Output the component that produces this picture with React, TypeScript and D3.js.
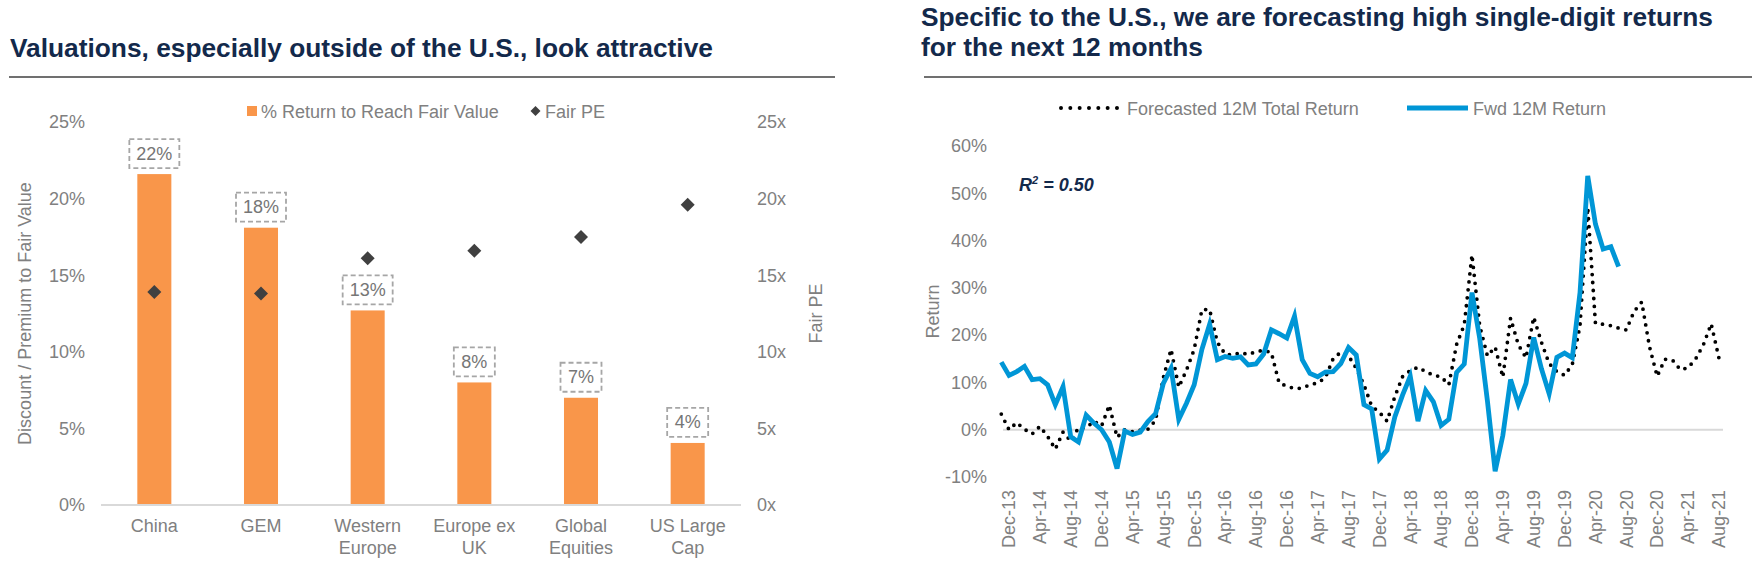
import React from 'react';
import * as d3 from 'd3';

const W = 1752;
const H = 561;
const FONT = '"Liberation Sans", Arial, Helvetica, sans-serif';
const NAVY = '#13294b';
const GRAY = '#808080';
const ORANGE = '#f9964a';
const BLUE = '#0096d6';

// ---- left chart data ----
const regions = ['China', 'GEM', 'Western Europe', 'Europe ex UK', 'Global Equities', 'US Large Cap'];
const regionLines = [['China'], ['GEM'], ['Western', 'Europe'], ['Europe ex', 'UK'], ['Global', 'Equities'], ['US Large', 'Cap']];
const returnToFair = [21.6, 18.1, 12.7, 8.0, 7.0, 4.05];
const returnLabels = ['22%', '18%', '13%', '8%', '7%', '4%'];
const fairPE = [13.9, 13.8, 16.1, 16.6, 17.5, 19.6];
const pctTicks = [0, 5, 10, 15, 20, 25];

// ---- right chart data (monthly, Nov-13 .. Aug-21) ----
const firstMonth = new Date(2013, 10, 1);
const lastMonth = new Date(2021, 7, 1);
const forecast12m = [
  3.3, 0.0, 1.5, 0.1, -0.9, 0.7, -1.4, -4.1, -0.5, -2.4,
  0.4, 0.4, 1.8, 0.8, 5.2, -1.6, 0.0, -0.4, -0.1, 0.1,
  2.0, 11.0, 17.0, 9.0, 12.6, 17.0, 25.4, 25.4, 18.5, 16.0,
  15.8, 16.3, 15.9, 16.5, 16.8, 16.3, 9.9, 9.2, 8.7, 8.8,
  9.5, 9.9, 11.0, 15.0, 16.4, 15.6, 13.0, 9.5, 5.0, 3.7,
  1.8, 7.0, 11.2, 12.5, 13.2, 12.3, 11.5, 11.2, 9.5, 18.0,
  22.2, 37.0, 22.0, 15.6, 17.5, 11.1, 23.6, 18.0, 15.2, 23.8,
  18.5, 14.0, 12.3, 11.5, 13.8, 22.0, 47.0, 22.5, 22.3, 22.0,
  21.5, 21.1, 25.0, 27.0, 17.6, 11.3, 14.9, 14.7, 12.7, 13.1,
  15.0, 18.0, 22.4, 15.2,
];
const fwd12m = [
  14.3, 11.5, 12.3, 13.4, 10.6, 10.8, 9.5, 5.3, 9.1, -1.5,
  -2.6, 3.1, 1.4, 0.0, -2.6, -8.2, -0.3, -1.0, -0.5, 1.7,
  3.4, 9.8, 13.0, 2.2, 5.6, 9.5, 17.0, 22.3, 14.8, 15.5,
  15.1, 15.4, 13.7, 13.9, 16.0, 21.1, 20.3, 19.4, 24.0, 14.8,
  11.9, 11.2, 12.2, 12.3, 14.0, 17.4, 15.8, 5.3, 4.4, -6.2,
  -4.3, 2.7, 7.3, 11.3, 1.8, 8.3, 5.9, 0.9, 2.2, 12.1,
  13.9, 29.0, 19.3, 6.1, -8.8, -1.2, 10.6, 5.4, 9.8, 19.5,
  12.9, 7.6, 15.3, 16.2, 15.2, 29.0, 53.7, 43.5, 38.2, 38.7,
  34.5,
];
const returnTicks = [-10, 0, 10, 20, 30, 40, 50, 60];

const fmtMonth = d3.timeFormat('%b-%y');
const months = d3.timeMonth.range(firstMonth, d3.timeMonth.offset(lastMonth, 1));
const monthKeys = months.map(fmtMonth);
// axis labels every 4 months starting Dec-13
const labelKeys = monthKeys.filter((_, i) => i % 4 === 1);

const diamond = (cx: number, cy: number, r: number) =>
  `M${cx},${cy - r}L${cx + r},${cy}L${cx},${cy + r}L${cx - r},${cy}Z`;

const LeftChart: React.FC = () => {
  const x = d3.scaleBand<string>().domain(regions).range([101, 741]).paddingInner(0.681).paddingOuter(0.3405);
  const y = d3.scaleLinear().domain([0, 25]).range([505, 122]);

  return (
    <g>
      <text x={10} y={57} fontSize={26.3} fontWeight="bold" fill={NAVY}>
        Valuations, especially outside of the U.S., look attractive
      </text>
      <line x1={9} x2={835} y1={77} y2={77} stroke="#404040" strokeWidth={1.5} />

      {/* legend */}
      <rect x={247} y={106} width={10} height={10} fill={ORANGE} />
      <text x={261} y={117.5} fontSize={18} fill={GRAY}>% Return to Reach Fair Value</text>
      <path d={diamond(535.5, 111, 5)} fill="#404040" />
      <text x={545} y={117.5} fontSize={18} fill={GRAY}>Fair PE</text>

      {/* left axis */}
      {pctTicks.map(t => (
        <text key={'l' + t} x={85} y={y(t)} dy="0.35em" textAnchor="end" fontSize={18} fill={GRAY}>{t}%</text>
      ))}
      <text transform={`translate(25,${(y(0) + y(25)) / 2}) rotate(-90)`} dy="0.35em" textAnchor="middle" fontSize={18} fill={GRAY}>
        Discount / Premium to Fair Value
      </text>

      {/* right axis */}
      {pctTicks.map(t => (
        <text key={'r' + t} x={757} y={y(t)} dy="0.35em" fontSize={18} fill={GRAY}>{t}x</text>
      ))}
      <text transform={`translate(816,${(y(0) + y(25)) / 2}) rotate(-90)`} dy="0.35em" textAnchor="middle" fontSize={18} fill={GRAY}>
        Fair PE
      </text>

      {/* bars */}
      {regions.map((r, i) => (
        <rect key={r} x={x(r)} y={y(returnToFair[i])} width={x.bandwidth()} height={y(0) - y(returnToFair[i])} fill={ORANGE} />
      ))}
      <line x1={101} x2={741} y1={y(0)} y2={y(0)} stroke="#d9d9d9" strokeWidth={2} />

      {/* data labels */}
      {regions.map((r, i) => {
        const cx = (x(r) || 0) + x.bandwidth() / 2;
        const bw = returnLabels[i].length === 3 ? 50 : 41;
        const bottom = y(returnToFair[i]) - 6;
        return (
          <g key={'lab' + r}>
            <rect x={cx - bw / 2} y={bottom - 29} width={bw} height={29} fill="none" stroke="#a6a6a6" strokeWidth={1.8} strokeDasharray="5,3" />
            <text x={cx} y={bottom - 8.5} textAnchor="middle" fontSize={18} fill="#767676">{returnLabels[i]}</text>
          </g>
        );
      })}

      {/* fair PE markers */}
      {regions.map((r, i) => (
        <path key={'d' + r} d={diamond((x(r) || 0) + x.bandwidth() / 2, y(fairPE[i]), 7)} fill="#404040" />
      ))}

      {/* category labels */}
      {regions.map((r, i) => (
        <text key={'c' + r} x={(x(r) || 0) + x.bandwidth() / 2} textAnchor="middle" fontSize={18} fill={GRAY}>
          {regionLines[i].map((l, j) => (
            <tspan key={j} x={(x(r) || 0) + x.bandwidth() / 2} y={532 + j * 22}>{l}</tspan>
          ))}
        </text>
      ))}
    </g>
  );
};

const RightChart: React.FC = () => {
  const x = d3.scalePoint<string>().domain(monthKeys).range([1001.3, 1718.9]);
  const y = d3.scaleLinear().domain([-10, 60]).range([477, 146]);

  const line = d3.line<number>()
    .x((_, i) => x(monthKeys[i]) || 0)
    .y(d => y(d));

  return (
    <g>
      <text x={921} fontSize={26.3} fontWeight="bold" fill={NAVY}>
        <tspan x={921} y={26}>Specific to the U.S., we are forecasting high single-digit returns</tspan>
        <tspan x={921} y={56}>for the next 12 months</tspan>
      </text>
      <line x1={924} x2={1752} y1={77} y2={77} stroke="#404040" strokeWidth={1.5} />

      {/* legend */}
      <line x1={1061} x2={1117} y1={108} y2={108} stroke="#000" strokeWidth={4} strokeDasharray="0 9.33" strokeLinecap="round" />
      <text x={1127} y={114.5} fontSize={18} fill={GRAY}>Forecasted 12M Total Return</text>
      <line x1={1407} x2={1468} y1={108} y2={108} stroke={BLUE} strokeWidth={5} />
      <text x={1473} y={114.5} fontSize={18} fill={GRAY}>Fwd 12M Return</text>

      {/* y axis */}
      {returnTicks.map(t => (
        <text key={t} x={987} y={y(t)} dy="0.35em" textAnchor="end" fontSize={18} fill={GRAY}>{t}%</text>
      ))}
      <text transform={`translate(933,${(y(-10) + y(60)) / 2}) rotate(-90)`} dy="0.35em" textAnchor="middle" fontSize={18} fill={GRAY}>
        Return
      </text>
      <line x1={1003} x2={1723} y1={y(0)} y2={y(0)} stroke="#d9d9d9" strokeWidth={2} />

      {/* x labels */}
      {labelKeys.map(k => (
        <text key={k} transform={`translate(${x(k)},490) rotate(-90)`} dy="0.35em" textAnchor="end" fontSize={18} fill={GRAY}>{k}</text>
      ))}

      <text x={1019} y={191} fontSize={18} fontWeight="bold" fontStyle="italic" fill={NAVY}>
        R<tspan dy={-7} fontSize={11}>2</tspan><tspan dy={7}> = 0.50</tspan>
      </text>

      <path d={line(forecast12m) || ''} fill="none" stroke="#000" strokeWidth={3.8} strokeDasharray="0 8" strokeLinecap="round" strokeLinejoin="round" />
      <path d={line(fwd12m) || ''} fill="none" stroke={BLUE} strokeWidth={4.8} />
    </g>
  );
};

export default function App() {
  return (
    <div style={{ position: 'absolute', left: 0, top: 0, width: W, height: H, background: '#fff' }}>
      <svg width={W} height={H} fontFamily={FONT} style={{ display: 'block' }}>
        <rect width={W} height={H} fill="#fff" />
        <LeftChart />
        <RightChart />
      </svg>
    </div>
  );
}
